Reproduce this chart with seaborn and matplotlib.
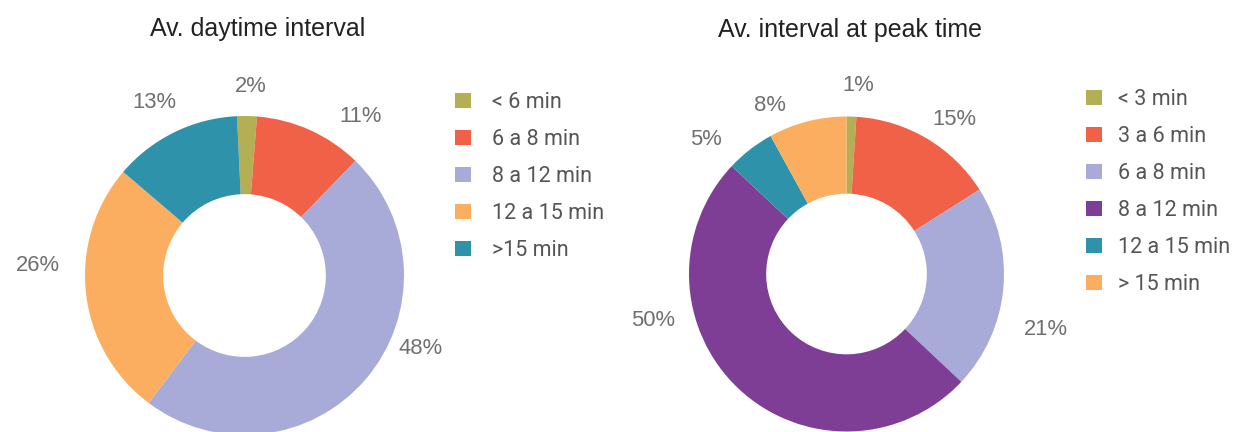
import matplotlib
matplotlib.use("Agg")
import matplotlib.pyplot as plt
import seaborn as sns

# Average service interval shares (%)
day_labels = ["< 6 min", "6 a 8 min", "8 a 12 min", "12 a 15 min", ">15 min"]
day_values = [2, 11, 48, 26, 13]

peak_labels = ["< 3 min", "3 a 6 min", "6 a 8 min", "8 a 12 min", "12 a 15 min", "> 15 min"]
peak_values = [1, 15, 21, 50, 5, 8]

titles = ["Av. daytime interval", "Av. interval at peak time"]

# Colours
OLIVE, RED, LAVENDER = "#B4AE55", "#F06148", "#A8ABD7"
ORANGE, TEAL, PURPLE = "#FBAE5F", "#2E92AB", "#7F3E96"
day_colors = sns.color_palette([OLIVE, RED, LAVENDER, ORANGE, TEAL])
peak_colors = sns.color_palette([OLIVE, RED, LAVENDER, PURPLE, TEAL, ORANGE])

sns.set_theme(style="white")
plt.rcParams["font.family"] = ["Liberation Sans", "DejaVu Sans"]

W, H = 1233, 432
fig = plt.figure(figsize=(W / 100, H / 100), dpi=100)
fig.patch.set_facecolor("white")

# label positions, in units of the outer radius
day_label_xy = [(0.041, 1.188), (0.730, 1.0), (1.103, -0.455), (-1.298, 0.060), (-0.567, 1.085)]
peak_label_xy = [(0.073, 1.197), (0.683, 0.981), (1.263, -0.352), (-1.229, -0.295),
                 (-0.892, 0.854), (-0.486, 1.070)]


def px_axes(cx, cy, r):
    """Square axes centred on pixel (cx, cy) measured from the top-left."""
    return fig.add_axes([(cx - r) / W, (H - cy - r) / H, 2 * r / W, 2 * r / H])


def donut(ax, values, colors, start, label_xy):
    wedges, _ = ax.pie(values, colors=colors, startangle=90 - start, counterclock=False,
                       radius=1.0, wedgeprops=dict(width=0.49, linewidth=0))
    ax.set_xlim(-1, 1)
    ax.set_ylim(-1, 1)
    ax.set_aspect("equal")
    ax.axis("off")
    for v, (x, y) in zip(values, label_xy):
        ax.text(x, y, f"{v}%", ha="center", va="center", fontsize=15.8,
                color="#707070", clip_on=False)
    return wedges


ax1 = px_axes(244.5, 275.5, 159.5)
w1 = donut(ax1, day_values, day_colors, -2.7, day_label_xy)
ax2 = px_axes(846.5, 274.0, 157.5)
w2 = donut(ax2, peak_values, peak_colors, 0.0, peak_label_xy)

fig.text(257.5 / W, 1 - 35.7 / H, titles[0], ha="center", va="baseline",
         fontsize=18, color="#222222")
fig.text(850 / W, 1 - 37.0 / H, titles[1], ha="center", va="baseline",
         fontsize=18, color="#222222")

leg_kw = dict(frameon=False, loc="upper left", borderpad=0, borderaxespad=0,
              handlelength=0.73, handleheight=0.68, labelspacing=0.745,
              bbox_transform=fig.transFigure,
              prop=dict(family="Roboto", size=15.5), labelcolor="#555555")
fig.legend(w1, day_labels, bbox_to_anchor=(455 / W, 1 - 91.7 / H),
           handletextpad=1.0, **leg_kw)
fig.legend(w2, peak_labels, bbox_to_anchor=(1086 / W, 1 - 88.7 / H),
           handletextpad=0.77, **leg_kw)

fig.savefig("out.png", dpi=100, facecolor="white")
